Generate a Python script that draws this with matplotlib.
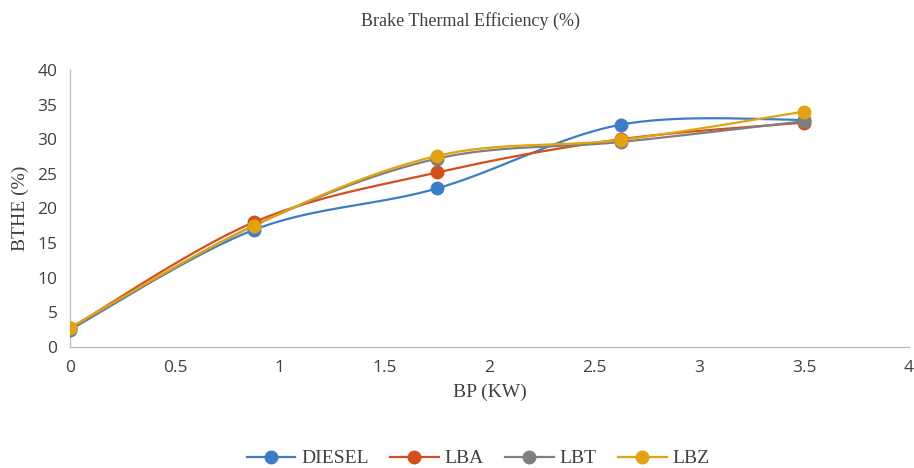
import numpy as np
import matplotlib
matplotlib.use("Agg")
import matplotlib.pyplot as plt

bp = [0, 0.875, 1.75, 2.625, 3.5]
diesel = [2.5, 16.9, 22.9, 32.1, 32.8]
lba = [2.7, 18.0, 25.2, 30.0, 32.4]
lbt = [2.6, 17.5, 27.2, 29.6, 32.6]
lbz = [2.8, 17.5, 27.6, 29.9, 34.0]
series_names = ["DIESEL", "LBA", "LBT", "LBZ"]
colors = ["#3d7cc9", "#d64f1a", "#7f7f7f", "#e3a30f"]
xticks = [0, 0.5, 1, 1.5, 2, 2.5, 3, 3.5, 4]
yticks = [0, 5, 10, 15, 20, 25, 30, 35, 40]


def smooth(x, y, n=40):
    x = np.asarray(x, float); y = np.asarray(y, float)
    px = np.concatenate([[x[0]], x, [x[-1]]])
    py = np.concatenate([[y[0]], y, [y[-1]]])
    xs, ys = [], []
    t = np.linspace(0, 1, n)
    for i in range(1, len(px) - 2):
        p0 = np.array([px[i], py[i]]); p3 = np.array([px[i + 1], py[i + 1]])
        c1 = p0 + (np.array([px[i + 1], py[i + 1]]) - np.array([px[i - 1], py[i - 1]])) / 6
        c2 = p3 - (np.array([px[i + 2], py[i + 2]]) - np.array([px[i], py[i]])) / 6
        b = ((1 - t) ** 3)[:, None] * p0 + (3 * (1 - t) ** 2 * t)[:, None] * c1 \
            + (3 * (1 - t) * t ** 2)[:, None] * c2 + (t ** 3)[:, None] * p3
        xs.extend(b[:, 0]); ys.extend(b[:, 1])
    return xs, ys


fig = plt.figure(figsize=(9.14, 4.68), dpi=100)
ax = fig.add_axes([0.0766, 0.2585, 0.918, 0.592])

for name, vals, c in zip(series_names, [diesel, lba, lbt, lbz], colors):
    sx, sy = smooth(bp, vals)
    ax.plot(sx, sy, color=c, lw=1.6, zorder=2)
    ax.plot(bp, vals, 'o', color=c, ms=9, zorder=3)
    ax.plot([], [], '-o', color=c, lw=1.6, ms=9, label=name)

ax.set_xlim(0, 4)
ax.set_ylim(0, 40)
ax.set_xticks(xticks)
ax.set_xticklabels([f"{v:g}" for v in xticks])
ax.set_yticks(yticks)
for s in ["top", "right"]:
    ax.spines[s].set_visible(False)
for s in ["left", "bottom"]:
    ax.spines[s].set_color("#bfbfbf")
    ax.spines[s].set_linewidth(1.0)
ax.tick_params(length=0, labelsize=12.5, colors="#404040", pad=9)
for lab in ax.get_xticklabels() + ax.get_yticklabels():
    lab.set_family("Open Sans")

serif = "Liberation Serif"
fig.text(0.515, 0.955, "Brake Thermal Efficiency (%)", ha="center", va="center",
         family=serif, fontsize=13, color="#404040")
ax.set_xlabel("BP (KW)", family=serif, fontsize=14, color="#404040", labelpad=6)
ax.set_ylabel("BTHE (%)", family=serif, fontsize=14, color="#404040", labelpad=6)

leg = fig.legend(loc="center", bbox_to_anchor=(0.523, 0.02), ncol=4, frameon=False,
                 prop={"family": serif, "size": 14}, handlelength=2.5,
                 columnspacing=1.1, handletextpad=0.3)
for t in leg.get_texts():
    t.set_color("#404040")

fig.savefig("out.png", dpi=100)
